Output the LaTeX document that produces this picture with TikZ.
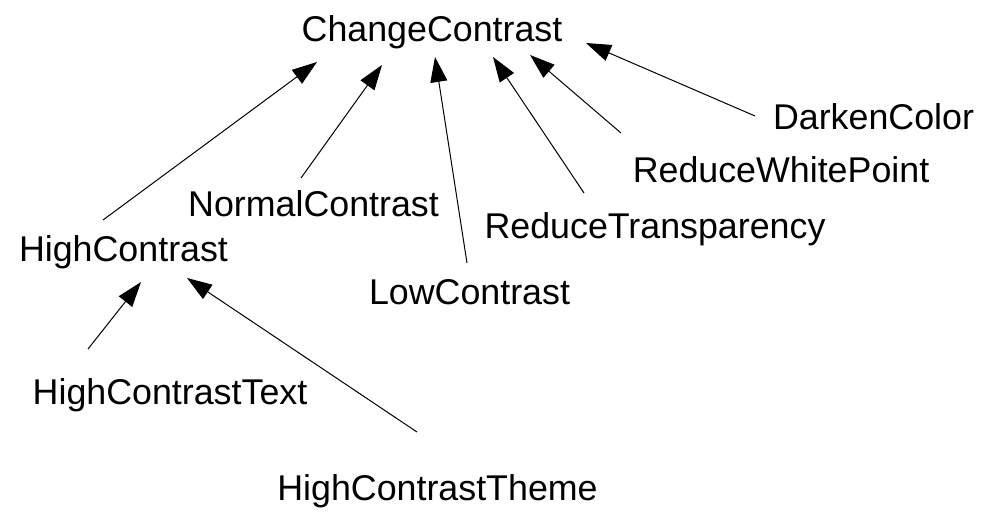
\documentclass[tikz,border=0pt]{standalone}
\usepackage{fontspec}
\setmainfont{Liberation Sans}
\usetikzlibrary{arrows.meta}
\begin{document}
\begin{tikzpicture}[x=0.5pt,y=-0.5pt,
  lbl/.style={anchor=base,inner sep=0pt,yshift=-1pt,font=\fontsize{17.9pt}{20pt}\selectfont},
  arr/.style={line width=0.5pt,-{Triangle[length=12.5pt,width=8.5pt]}}]
\useasboundingbox[fill=white] (0,0) rectangle (989,517);
% nodes
\node[lbl] (cc) at (432,40) {ChangeContrast};
\node[lbl] (dc) at (873.5,128) {DarkenColor};
\node[lbl] (rwp) at (781,181) {ReduceWhitePoint};
\node[lbl] (rt) at (655,237) {ReduceTransparency};
\node[lbl] (nc) at (313.5,215) {NormalContrast};
\node[lbl] (hc) at (123.5,260) {HighContrast};
\node[lbl] (lc) at (469.5,303) {LowContrast};
\node[lbl] (hct) at (170,403) {HighContrastText};
\node[lbl] (hcth) at (437.5,498) {HighContrastTheme};
% connector ends
\coordinate (hc-out) at (103,220);  \coordinate (cc-in1) at (317,62);
\coordinate (nc-out) at (301,178);  \coordinate (cc-in2) at (382,65);
\coordinate (lc-out) at (467,263);  \coordinate (cc-in3) at (435,57);
\coordinate (rt-out) at (584,193);  \coordinate (cc-in4) at (493,57);
\coordinate (rwp-out) at (621,133); \coordinate (cc-in5) at (530,55);
\coordinate (dc-out) at (755,116);  \coordinate (cc-in6) at (586,43);
\coordinate (hct-out) at (88,349);  \coordinate (hc-in1) at (141,282);
\coordinate (hcth-out) at (417,432); \coordinate (hc-in2) at (187,278);
% connectors
\draw[arr] (hc-out) -- (cc-in1);
\draw[arr] (nc-out) -- (cc-in2);
\draw[arr] (lc-out) -- (cc-in3);
\draw[arr] (rt-out) -- (cc-in4);
\draw[arr] (rwp-out) -- (cc-in5);
\draw[arr] (dc-out) -- (cc-in6);
\draw[arr] (hct-out) -- (hc-in1);
\draw[arr] (hcth-out) -- (hc-in2);
\end{tikzpicture}
\end{document}
